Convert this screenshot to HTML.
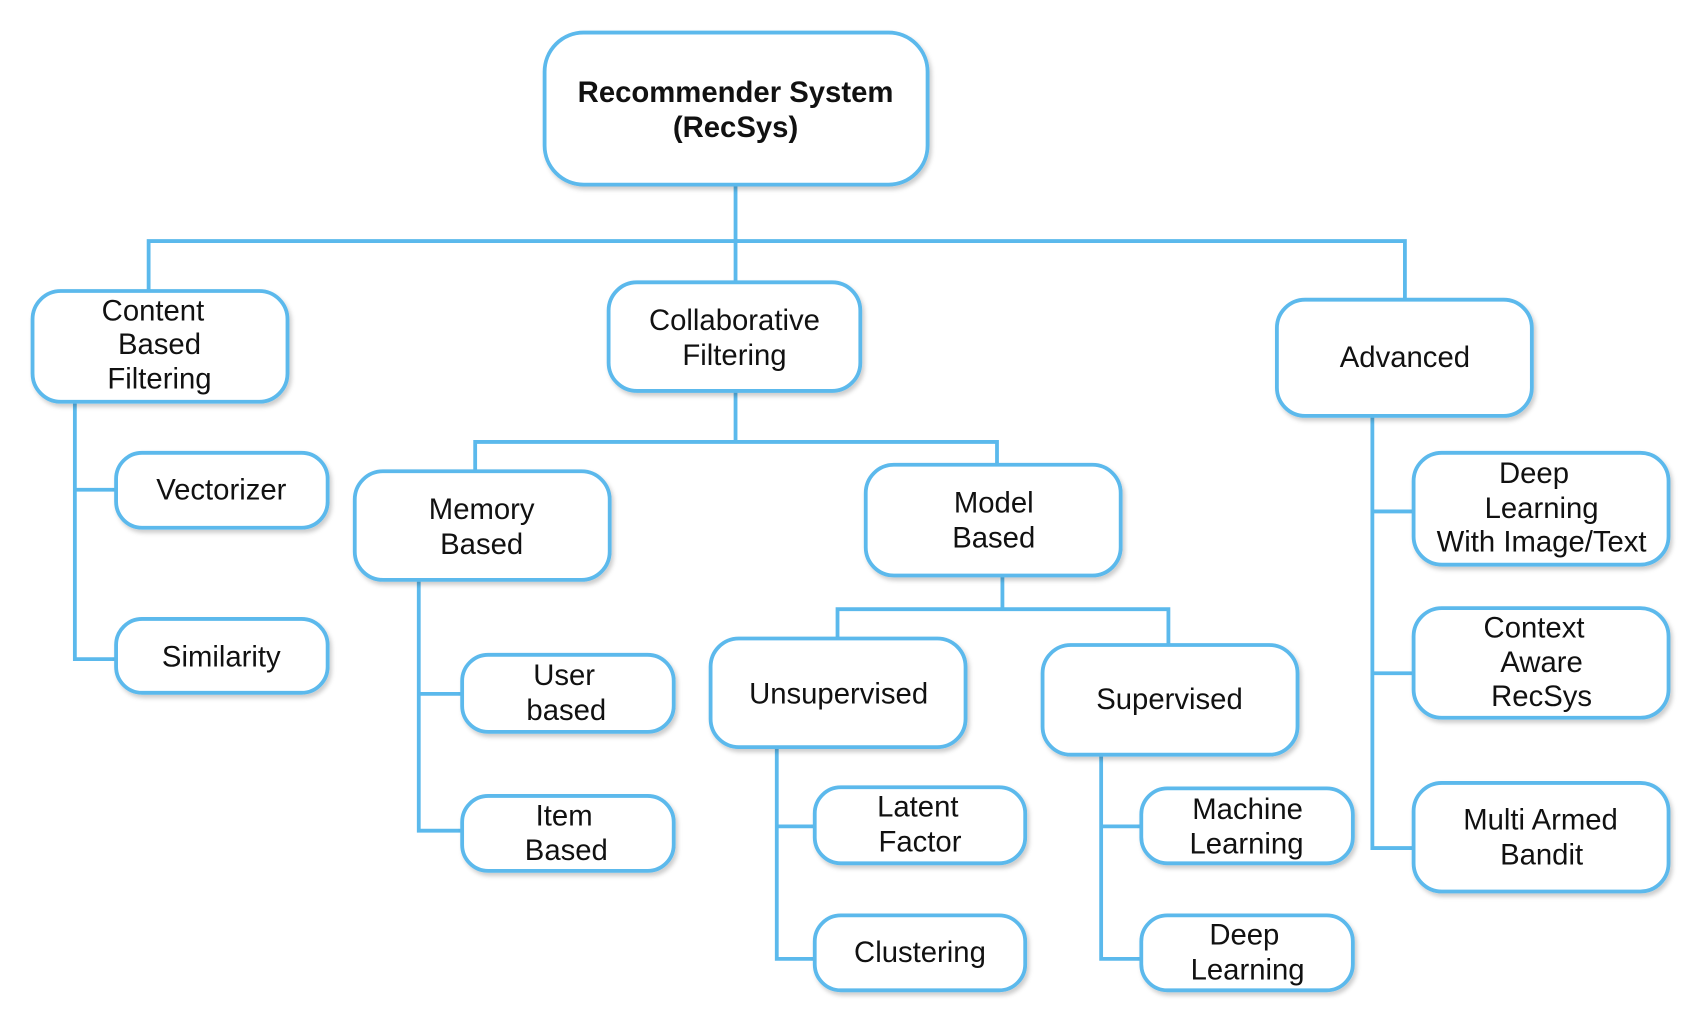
<!DOCTYPE html>
<html><head><meta charset="utf-8"><style>
html,body{margin:0;padding:0;background:#fff;width:1700px;height:1024px;overflow:hidden}
svg{display:block}
text{font-family:"Liberation Sans",Arial,sans-serif;font-size:27px;fill:#111;text-anchor:middle}
.b{fill:#fff;stroke:#5bb9ec;stroke-width:3.5}
.l{stroke:#5bb9ec;stroke-width:3.5;fill:none}
</style></head><body>
<svg width="1700" height="1024" viewBox="0 0 1567 943" preserveAspectRatio="none">
<defs><filter id="s" x="-10%" y="-10%" width="130%" height="130%"><feDropShadow dx="2" dy="3" stdDeviation="2" flood-color="#000" flood-opacity="0.2"/></filter></defs>
<g class="l">
<path d="M678 170V222M137 268V222H1295V276M678 222V260"/>
<path d="M678 360V407M438 434V407H919V428"/>
<path d="M924 530V561M772 588V561H1077V594"/>
<path d="M69 370V607H107M69 451H107"/>
<path d="M386 534V765H426M386 639H426"/>
<path d="M716 688V883H751M716 761H751"/>
<path d="M1015 695V883H1052M1015 761H1052"/>
<path d="M1265 383V781H1303M1265 471H1303M1265 620H1303"/>
</g>
<g filter="url(#s)">
<rect class="b" x="502" y="30" width="353" height="140" rx="36"/>
<rect class="b" x="30" y="268" width="235" height="102" rx="26"/>
<rect class="b" x="561" y="260" width="232" height="100" rx="26"/>
<rect class="b" x="1177" y="276" width="235" height="107" rx="26"/>
<rect class="b" x="107" y="417" width="195" height="69" rx="24"/>
<rect class="b" x="107" y="570" width="195" height="68" rx="24"/>
<rect class="b" x="327" y="434" width="235" height="100" rx="26"/>
<rect class="b" x="798" y="428" width="235" height="102" rx="26"/>
<rect class="b" x="426" y="603" width="195" height="71" rx="24"/>
<rect class="b" x="426" y="733" width="195" height="69" rx="24"/>
<rect class="b" x="655" y="588" width="235" height="100" rx="26"/>
<rect class="b" x="961" y="594" width="235" height="101" rx="26"/>
<rect class="b" x="751" y="725" width="194" height="70" rx="24"/>
<rect class="b" x="751" y="843" width="194" height="69" rx="24"/>
<rect class="b" x="1052" y="726" width="195" height="69" rx="24"/>
<rect class="b" x="1052" y="843" width="195" height="69" rx="24"/>
<rect class="b" x="1303" y="417" width="235" height="103" rx="26"/>
<rect class="b" x="1303" y="560" width="235" height="101" rx="26"/>
<rect class="b" x="1303" y="721" width="235" height="100" rx="26"/>
</g>
<text x="678" y="94" style="font-weight:bold;font-size:27px">Recommender System</text>
<text x="678" y="126" style="font-weight:bold;font-size:27px">(RecSys)</text>
<text x="141" y="295">Content</text><text x="147" y="326">Based</text><text x="147" y="358">Filtering</text>
<text x="677" y="304">Collaborative</text><text x="677" y="336">Filtering</text>
<text x="1295" y="338">Advanced</text>
<text x="204" y="460">Vectorizer</text>
<text x="204" y="614">Similarity</text>
<text x="444" y="478">Memory</text><text x="444" y="510">Based</text>
<text x="916" y="472">Model</text><text x="916" y="504">Based</text>
<text x="520" y="631">User</text><text x="522" y="663">based</text>
<text x="520" y="760">Item</text><text x="522" y="792">Based</text>
<text x="773" y="648">Unsupervised</text>
<text x="1078" y="653">Supervised</text>
<text x="846" y="752">Latent</text><text x="848" y="784">Factor</text>
<text x="848" y="886">Clustering</text>
<text x="1150" y="754">Machine</text><text x="1149" y="786">Learning</text>
<text x="1147" y="870">Deep</text><text x="1150" y="902">Learning</text>
<text x="1414" y="445">Deep</text><text x="1421" y="477">Learning</text><text x="1421" y="508">With Image/Text</text>
<text x="1414" y="587">Context</text><text x="1421" y="619">Aware</text><text x="1421" y="650">RecSys</text>
<text x="1420" y="764">Multi Armed</text><text x="1421" y="796">Bandit</text>
</svg>
</body></html>
